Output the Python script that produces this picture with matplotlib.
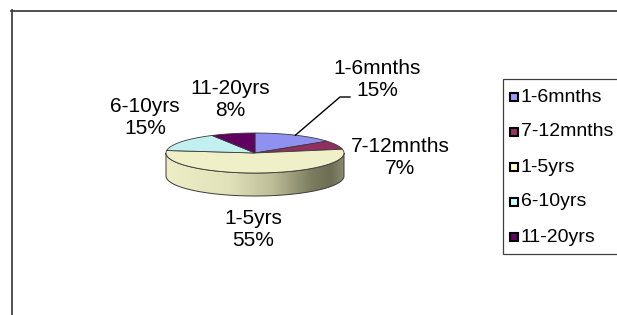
import numpy as np
import matplotlib
matplotlib.use("Agg")
import matplotlib.pyplot as plt
from matplotlib.patches import Polygon, Rectangle
from matplotlib.colors import LinearSegmentedColormap

plt.rcParams['font.family'] = ['Liberation Sans', 'DejaVu Sans']

# ---- data ----
categories = ["1-6mnths", "7-12mnths", "1-5yrs", "6-10yrs", "11-20yrs"]
percents = [15, 7, 55, 15, 8]
legend_colors = ["#9999FF", "#993366", "#FFFFCC", "#CCFFFF", "#660066"]
top_colors = ["#9090F0", "#903060", "#F0F0C8", "#C2F0F0", "#600060"]

W, H = 617, 315
fig = plt.figure(figsize=(W / 100, H / 100), dpi=100)
ax = fig.add_axes([0, 0, 1, 1])
ax.set_xlim(0, W)
ax.set_ylim(H, 0)
ax.axis('off')

# outer chart frame (top and left edges visible)
ax.plot([11, W + 5], [10.5, 10.5], color="#404040", lw=1.3)
ax.plot([11.5, 11.5], [10, H + 5], color="#404040", lw=1.3)

# ---- 3D pie geometry ----
cx, cy, rx, ry, depth = 255, 153, 89, 20, 23
edge = "#3a3a3a"

def pt(theta_deg, dy=0.0):
    t = np.radians(theta_deg)
    return cx + rx * np.cos(t), cy - ry * np.sin(t) + dy

# angles: start at 90 deg, clockwise
total = float(sum(percents))
starts, ends = [], []
a = 90.0
for p in percents:
    starts.append(a)
    a -= 360.0 * p / total
    ends.append(a)

# front side (visible for angles 180..360)
th = np.linspace(180, 360, 200)
top_arc = np.array([pt(t) for t in th])
bot_arc = np.array([pt(t, depth) for t in th[::-1]])
side_poly = np.vstack([top_arc, bot_arc])
side = Polygon(side_poly, closed=True, facecolor="none", edgecolor=edge, lw=0.7, zorder=3)
ax.add_patch(side)
grad_cmap = LinearSegmentedColormap.from_list(
    "side",
    [(0.0, "#EEEEC6"), (0.35, "#E2E2BA"), (0.6, "#BDBD98"),
     (0.82, "#7C7C60"), (0.93, "#6E6E55"), (1.0, "#8A8A70")])
gx = np.linspace(0, 1, 256).reshape(1, -1)
im = ax.imshow(gx, cmap=grad_cmap, extent=(cx - rx, cx + rx, cy + ry + depth + 1, cy - 1),
               aspect='auto', zorder=2, interpolation='bilinear')
im.set_clip_path(Polygon(side_poly, closed=True, transform=ax.transData))
ax.set_xlim(0, W)
ax.set_ylim(H, 0)

# top sectors
for s, e, c in zip(starts, ends, top_colors):
    ts = np.linspace(s, e, 120)
    arc = np.array([pt(t) for t in ts])
    poly = np.vstack([[cx, cy], arc])
    ax.add_patch(Polygon(poly, closed=True, facecolor=c, edgecolor=edge, lw=0.6, zorder=4))

# ---- data labels ----
label_pos = {
    "1-6mnths": (377, 80),
    "7-12mnths": (400, 158),
    "1-5yrs": (253, 229),
    "6-10yrs": (145, 118),
    "11-20yrs": (230, 99),
}
for cat, p in zip(categories, percents):
    x, y = label_pos[cat]
    ax.text(x, y, f"{cat}\n{p}%", ha='center', va='center', fontsize=15,
            linespacing=1.2, color='black', zorder=6)

# leader line for first slice
mid = (starts[0] + ends[0]) / 2
ex, ey = pt(mid)
ax.plot([350, 340, ex], [97, 97, ey], color='black', lw=1.0, zorder=6)

# ---- legend ----
lx0, ly0, ly1 = 502.5, 78.5, 254
ax.add_patch(Rectangle((lx0, ly0), W, ly1 - ly0, facecolor='white',
                       edgecolor='#404040', lw=0.9, zorder=5))
for i, (cat, col) in enumerate(zip(categories, legend_colors)):
    yy = 97 + 35 * i
    ax.add_patch(Rectangle((510, yy - 4), 8, 8, facecolor=col,
                           edgecolor='black', lw=1.5, zorder=6))
    ax.text(520.5, yy, cat, ha='left', va='center', fontsize=14, color='black', zorder=6)

fig.savefig("out.png", dpi=100)
